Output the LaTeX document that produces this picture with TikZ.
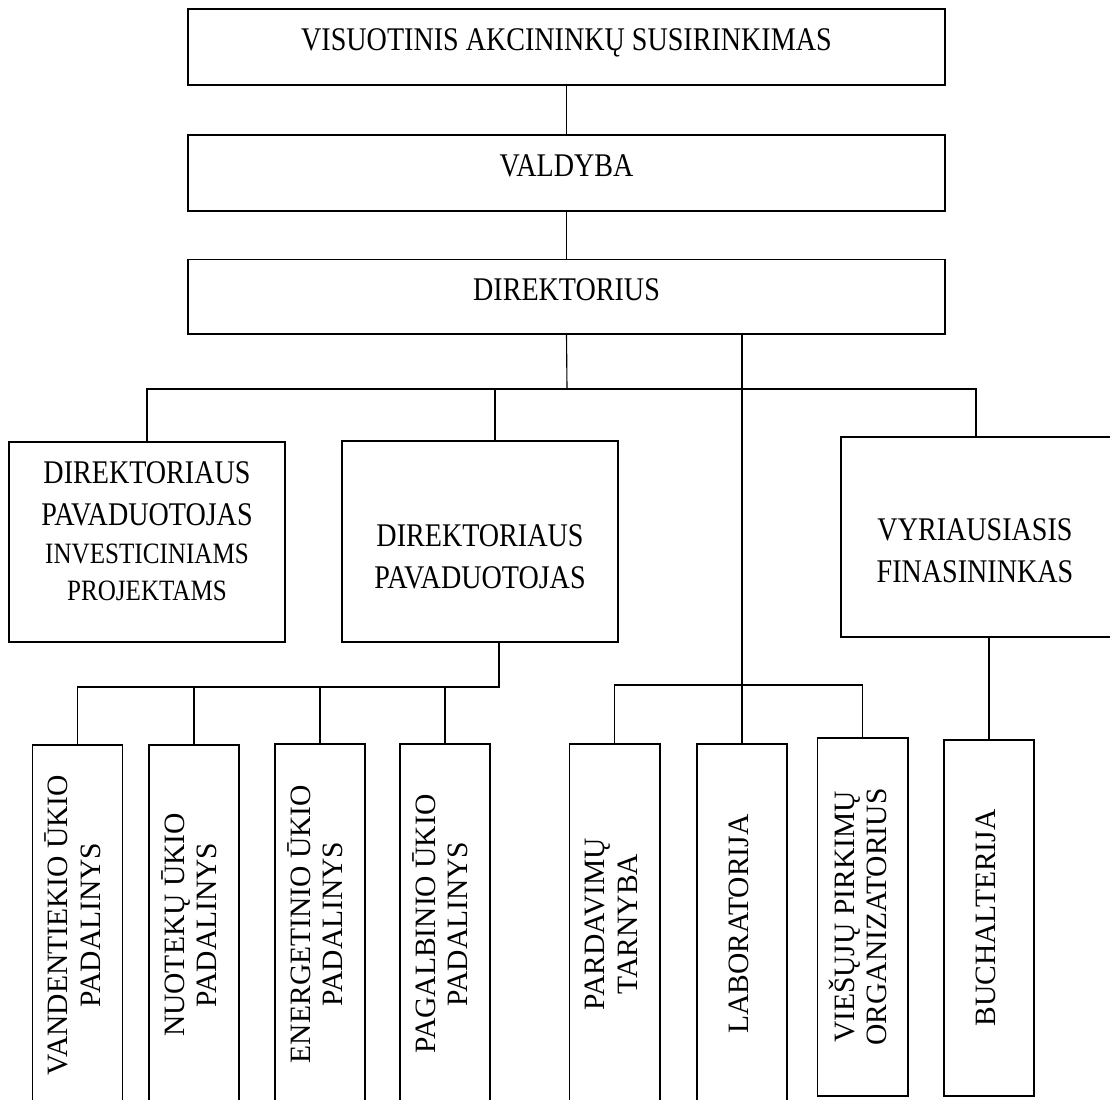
\documentclass[tikz,border=0pt]{standalone}
\usepackage{fontspec}
\usepackage{graphicx}
\setmainfont{Liberation Serif}
\newfontfamily\narrowfont[FakeStretch=0.85]{Liberation Serif}
\newcommand{\vtext}[1]{\rotatebox{90}{\begin{tabular}{@{}c@{}}#1\end{tabular}}}

\begin{document}
\begin{tikzpicture}[x=0.025cm,y=-0.025cm,
  box/.style={draw,line width=1.4pt,align=center,inner sep=0pt,
    font=\narrowfont\fontsize{23.5}{30}\selectfont},
  wide/.style={box,minimum width=18.93cm,minimum height=1.9cm,
    text height=11.5pt,text depth=6pt},
  mid/.style={box,minimum width=6.9cm,minimum height=5cm},
  midtext/.style={align=center,inner sep=0pt,
    font=\narrowfont\fontsize{23.5}{30}\selectfont},
  unit/.style={draw,line width=1.4pt,inner sep=0pt,anchor=north,
    minimum width=2.25cm,minimum height=9cm,font=\fontsize{21}{23}\selectfont},
  link/.style={line width=0.8pt}]
\fill[white] (0,0) rectangle (1110,1099);
\useasboundingbox (0,0) rectangle (1110,1099);

% management
\node[wide] (vas) at (566.5,47) {VISUOTINIS AKCININKŲ SUSIRINKIMAS};
\node[wide] (val) at (566.5,173) {VALDYBA};
\node[wide,minimum height=1.85cm] (dir) at (566.5,296.5) {DIREKTORIUS};

\draw[link] (vas) -- (val);
\draw[link] (val) -- (dir);

% deputies and finance
\node[mid] (pav1) at (147,542) {};
\node[midtext] (pav1t) at (147,531) {DIREKTORIAUS\\PAVADUOTOJAS\\[-3pt]
  {\fontsize{21}{26}\selectfont INVESTICINIAMS}\\[-4pt]
  {\fontsize{21}{26}\selectfont PROJEKTAMS}};
\node[mid] (pav2) at (480,541.5) {};
\node[midtext] (pav2t) at (480,557) {DIREKTORIAUS\\PAVADUOTOJAS};
\node[mid,minimum width=6.75cm] (fin) at (976,537) {};
\node[midtext] (fint) at (975,551) {VYRIAUSIASIS\\FINASININKAS};

\coordinate (j1) at (567,389);
\coordinate (t2) at (495,389);
\draw[link] (dir.south) -- (j1);
\draw[link] (pav1.north) -- (pav1.north |- j1) -- (fin.north |- j1) -- (fin.north);
\draw[link] (t2) -- (t2 |- pav2.north);

% units
\node[unit] (b1) at (77.5,744) {\vtext{VANDENTIEKIO ŪKIO\\PADALINYS}};
\node[unit] (b2) at (194,744) {\vtext{NUOTEKŲ ŪKIO\\PADALINYS}};
\node[unit] (b3) at (320,743) {\vtext{ENERGETINIO ŪKIO\\PADALINYS}};
\node[unit] (b4) at (445,743) {\vtext{PAGALBINIO ŪKIO\\PADALINYS}};
\node[unit] (b5) at (614.5,743) {\vtext{PARDAVIMŲ\\TARNYBA}};
\node[unit] (b6) at (742,743) {\vtext{LABORATORIJA}};
\node[unit,minimum height=8.95cm] (b7) at (862.5,737) {\vtext{VIEŠŲJŲ PIRKIMŲ\\ORGANIZATORIUS}};
\node[unit,minimum height=8.9cm] (b8) at (989,739) {\vtext{BUCHALTERIJA}};

\coordinate (j2) at (499,687);
\coordinate (j3) at (614,685);
\draw[link] (pav2.south -| j2) -- (j2) -- (j2 -| b1.north) -- (b1.north);
\draw[link] (b2.north) -- (b2.north |- j2);
\draw[link] (b3.north) -- (b3.north |- j2);
\draw[link] (b4.north) -- (b4.north |- j2);
\draw[link] (b5.north) -- (b5.north |- j3) -- (b7.north |- j3) -- (b7.north);
\draw[link] (dir.south -| b6.north) -- (b6.north);
\draw[link] (fin.south -| b8.north) -- (b8.north);

\end{tikzpicture}
\end{document}
